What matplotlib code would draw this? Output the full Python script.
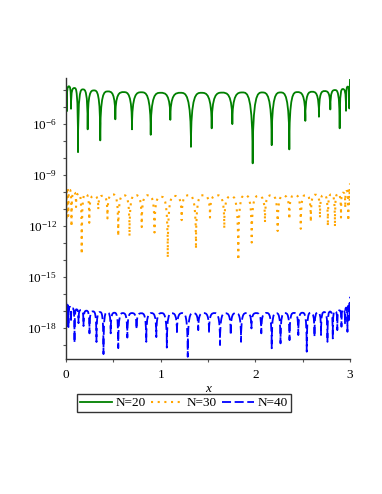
import matplotlib
matplotlib.use("Agg")
import matplotlib.pyplot as plt
from matplotlib.path import Path
from matplotlib.patches import PathPatch
from matplotlib.lines import Line2D
from matplotlib.ticker import FixedLocator, NullFormatter, FixedFormatter

plt.rcParams['font.family'] = ['Liberation Serif', 'DejaVu Serif']
plt.rcParams['mathtext.fontset'] = 'custom'
plt.rcParams['mathtext.rm'] = 'Liberation Serif'
plt.rcParams['mathtext.it'] = 'Liberation Serif:italic'

# ---- data (x positions, log10 of |error|) ----
series_labels = ["N=20", "N=30", "N=40"]

green_nodes = [0.007, 0.053, 0.127, 0.229, 0.362, 0.521, 0.697, 0.895, 1.102, 1.320, 1.539,
               1.757, 1.972, 2.173, 2.359, 2.528, 2.672, 2.792, 2.891, 2.958, 2.993]
green_dips = [-5.25, -5.10, -7.65, -6.31, -6.96, -5.72, -6.31, -6.63, -5.75, -7.34, -6.25,
              -6.00, -8.31, -7.24, -7.49, -5.81, -5.57, -5.14, -6.25, -5.22, -5.08]
green_peaks = [-3.78, -3.88, -3.96, -4.02, -4.08, -4.12, -4.13, -4.16, -4.16, -4.16,
               -4.15, -4.14, -4.14, -4.14, -4.12, -4.10, -4.06, -4.00, -3.94, -3.80]
green_ends = [-3.34, -3.35]

orange_nodes = [0.004, 0.024, 0.058, 0.106, 0.166, 0.246, 0.341, 0.438, 0.552, 0.671, 0.800,
                0.935, 1.075, 1.222, 1.373, 1.521, 1.672, 1.820, 1.962, 2.102, 2.236, 2.359,
                2.480, 2.586, 2.683, 2.766, 2.841, 2.905, 2.950, 2.982, 2.997]
orange_dips = [-11.53, -11.41, -12.03, -10.88, -13.65, -11.81, -11.02, -11.55, -12.59, -12.59,
               -12.06, -12.38, -13.86, -11.65, -13.34, -11.50, -12.14, -14.00, -12.97, -11.79,
               -12.29, -11.60, -12.16, -11.76, -11.52, -12.00, -12.04, -11.50, -10.94, -11.69,
               -10.76]
orange_peaks = [-9.76, -9.88, -10.00, -10.09, -10.12, -10.22, -10.22, -10.14, -10.19, -10.18,
                -10.19, -10.28, -10.23, -10.19, -10.19, -10.19, -10.25, -10.19, -10.23, -10.19,
                -10.22, -10.18, -10.18, -10.16, -10.17, -10.14, -10.10, -10.04, -9.94, -9.80]
orange_ends = [-9.47, -9.49]

blue_nodes = [0.001, 0.010, 0.026, 0.053, 0.090, 0.132, 0.185, 0.248, 0.322, 0.396, 0.472,
              0.552, 0.648, 0.745, 0.848, 0.954, 1.065, 1.172, 1.286, 1.397, 1.511, 1.627,
              1.740, 1.849, 1.959, 2.063, 2.173, 2.266, 2.361, 2.454, 2.543, 2.625, 2.694,
              2.762, 2.818, 2.866, 2.910, 2.947, 2.973, 2.989, 2.999]
blue_dips = [-17.71, -17.88, -17.94, -17.65, -18.86, -17.71, -17.88, -18.31, -18.82, -19.53,
             -18.31, -19.18, -18.56, -18.06, -18.81, -18.53, -19.15, -18.35, -19.69, -18.12,
             -18.31, -19.00, -18.41, -18.81, -18.02, -18.31, -19.19, -18.90, -18.71, -18.41,
             -19.39, -18.51, -18.41, -18.81, -18.61, -18.12, -17.92, -17.72, -18.22, -17.53,
             -17.24]
blue_peaks = [-16.50, -16.65, -16.75, -16.84, -16.90, -16.94, -16.98, -17.02, -17.06, -17.08,
              -17.10, -17.12, -17.12, -17.13, -17.12, -17.12, -17.13, -17.12, -17.12, -17.12,
              -17.12, -17.13, -17.12, -17.12, -17.12, -17.11, -17.12, -17.12, -17.11, -17.10,
              -17.10, -17.08, -17.06, -17.03, -17.00, -16.96, -16.90, -16.80, -16.70, -16.55]
blue_ends = [-16.16, -16.16]

x_range = [0.0, 3.0]
ylog_range = [-19.82, -3.29]
x_major = [0, 1, 2, 3]
x_minor = [0.5, 1.5, 2.5]
y_major_exp = [-18, -15, -12, -9, -6]
y_minor_exp = [-19, -17, -16, -14, -13, -11, -10, -8, -7, -5, -4]


def lobe_path(nodes, dips, peaks, ends):
    verts = [(x_range[0], 10.0 ** ends[0]), (nodes[0], 10.0 ** dips[0])]
    codes = [Path.MOVETO, Path.LINETO]
    for i, pk in enumerate(peaks):
        x0, x1 = nodes[i], nodes[i + 1]
        xp = 0.5 * (x0 + x1)
        h = xp - x0
        p = 10.0 ** pk
        verts += [(x0, p), (x0 + 0.5 * h, p), (xp, p),
                  (xp + 0.5 * h, p), (x1, p), (x1, 10.0 ** dips[i + 1])]
        codes += [Path.CURVE4] * 6
    verts.append((x_range[1], 10.0 ** ends[1]))
    codes.append(Path.LINETO)
    return Path(verts, codes)


fig = plt.figure(figsize=(3.82, 4.94), dpi=100)
ax = fig.add_axes([66 / 382, 1 - 359 / 494, 284 / 382, 281 / 494])
ax.set_yscale('log')
ax.set_xlim(*x_range)
ax.set_ylim(10.0 ** ylog_range[0], 10.0 ** ylog_range[1])

styles = [
    dict(color='#008000', ls='-', lw=1.3),
    dict(color='#FFA500', ls=(0, (1, 2.2)), lw=1.5),
    dict(color='#0000FF', ls=(0, (5, 2)), lw=1.3),
]
datasets = [
    (green_nodes, green_dips, green_peaks, green_ends),
    (orange_nodes, orange_dips, orange_peaks, orange_ends),
    (blue_nodes, blue_dips, blue_peaks, blue_ends),
]
for (nodes, dips, peaks, ends), st in zip(datasets, styles):
    patch = PathPatch(lobe_path(nodes, dips, peaks, ends), fill=False,
                      edgecolor=st['color'], linewidth=st['lw'], linestyle=st['ls'],
                      capstyle='butt', joinstyle='round')
    ax.add_patch(patch)

for s in ['top', 'right']:
    ax.spines[s].set_visible(False)
for s in ['left', 'bottom']:
    ax.spines[s].set_linewidth(1.0)
    ax.spines[s].set_color('#333333')

ax.xaxis.set_major_locator(FixedLocator(x_major))
ax.xaxis.set_minor_locator(FixedLocator(x_minor))
ax.xaxis.set_major_formatter(FixedFormatter([str(v) for v in x_major]))
ax.xaxis.set_minor_formatter(NullFormatter())
ax.yaxis.set_major_locator(FixedLocator([10.0 ** e for e in y_major_exp]))
ax.yaxis.set_minor_locator(FixedLocator([10.0 ** e for e in y_minor_exp]))
ax.yaxis.set_major_formatter(FixedFormatter([r'$10^{%d}$' % e for e in y_major_exp]))
ax.yaxis.set_minor_formatter(NullFormatter())
ax.tick_params(axis='both', which='both', direction='out', length=2.5, width=0.8,
               color='#555555', labelsize=9.5)
ax.tick_params(axis='x', which='major', pad=5)
ax.tick_params(axis='y', which='major', pad=4)
ax.set_xlabel('x', style='italic', fontsize=9.5, labelpad=1)

handles = [Line2D([], [], color=st['color'], linestyle=st['ls'], linewidth=st['lw'])
           for st in styles]
leg = fig.legend(handles, series_labels, loc='center',
                 bbox_to_anchor=(184 / 382, 1 - 403 / 494), ncol=3, fontsize=9.5,
                 frameon=True, fancybox=False, handlelength=2.4, handletextpad=0.3,
                 columnspacing=0.4, borderpad=0.25, borderaxespad=0)
leg.get_frame().set_edgecolor('black')
leg.get_frame().set_linewidth(1.0)

fig.savefig('out.png', dpi=100)
